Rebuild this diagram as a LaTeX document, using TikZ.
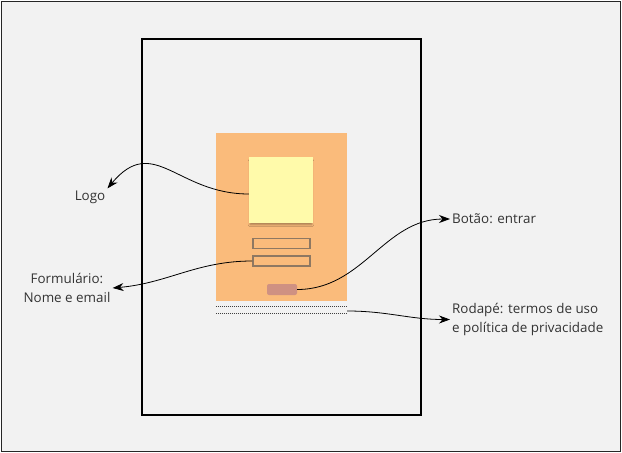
\documentclass[tikz,border=0pt]{standalone}
\usepackage{fontspec}
\setmainfont{Open Sans}
\usepackage{tikz}
\usetikzlibrary{arrows.meta,positioning,calc,shadows,shadows.blur}

\definecolor{bgfill}{RGB}{242,242,242}
\definecolor{pageorange}{RGB}{250,187,123}
\definecolor{notefill}{RGB}{255,250,170}
\definecolor{fieldline}{RGB}{142,120,98}
\definecolor{btnfill}{RGB}{207,145,130}
\definecolor{txt}{RGB}{51,51,51}

\begin{document}
\begin{tikzpicture}[
    x=1pt, y=1pt,
    font=\fontsize{13.4}{18.5}\selectfont,
    frame/.style={rectangle, draw=black!85, line width=1.6pt, fill=bgfill, inner sep=0pt},
    screen/.style={rectangle, draw=black, line width=1.8pt, inner sep=0pt},
    page/.style={rectangle, fill=pageorange, inner sep=0pt, minimum width=131, minimum height=168},
    note/.style={rectangle, fill=notefill, inner sep=0pt, minimum width=64, minimum height=66,
        blur shadow={shadow xshift=0pt, shadow yshift=-3pt, shadow scale=0.96, shadow opacity=35, shadow blur steps=6}},
    field/.style={rectangle, draw=fieldline, line width=1.7pt, inner sep=0pt, minimum width=57, minimum height=10},
    btn/.style={rectangle, rounded corners=2pt, fill=btnfill, inner sep=0pt, minimum width=30, minimum height=11},
    dots/.style={dash pattern=on 1pt off 1pt, line width=1pt, black!75},
    label/.style={text=txt, inner sep=2pt},
    arrow/.style={-{Stealth[length=11pt,width=8pt]}, line width=0.8pt, black}
]
    \useasboundingbox (0,0) rectangle (622,-453);

    % Frames
    \node[frame, minimum width=619, minimum height=450] (frame) at (311,-226.5) {};
    \node[screen, minimum width=279, minimum height=376] (screen) at (281.5,-227) {};

    % Login page
    \node[page] (page) at (281.5,-217) {};
    \node[note] (logo) at (281,-190) {};
    \node[field] (nome) at (281.5,-243.5) {};
    \node[field] (email) at (281.5,-261) {};
    \node[btn] (entrar) at (282,-289.5) {};
    \node[minimum width=131, minimum height=6, inner sep=0pt] (rodape) at (281.5,-310) {};
    \draw[dots] (rodape.north west) -- (rodape.north east);
    \draw[dots] (rodape.south west) -- (rodape.south east);

    % Labels
    \node[label] (logo-lbl) at (90,-197) {Logo};
    \node[label, align=center] (form-lbl) at (67,-288) {Formulário:\\Nome e email};
    \node[label, anchor=west] (btn-lbl) at (450,-219) {Botão: entrar};
    \node[label, anchor=west, align=left] (rod-lbl) at (450,-319.5) {Rodapé: termos de uso\\e política de privacidade};

    % Connectors
    \draw[arrow] ([yshift=-4]logo.west) to[out=180, in=50, looseness=1.3] (logo-lbl.north east);
    \draw[arrow] (email.west) to[out=180, in=5] (form-lbl.east);
    \draw[arrow] (entrar.east) to[out=0, in=180] (btn-lbl.west);
    \draw[arrow] ([yshift=-1]rodape.east) to[out=0, in=180] (rod-lbl.west);
\end{tikzpicture}
\end{document}
